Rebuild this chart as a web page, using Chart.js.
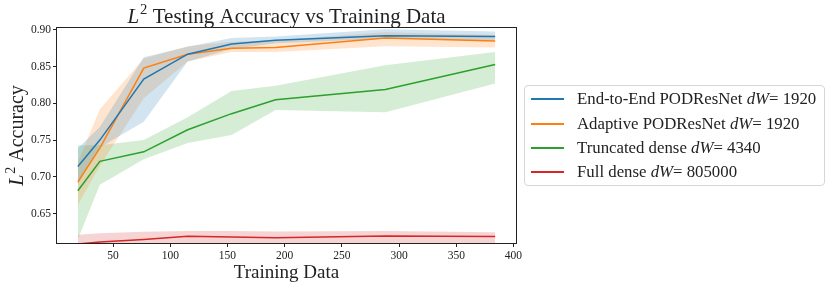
<!DOCTYPE html>
<html>
<head>
<meta charset="utf-8">
<script src="https://cdn.jsdelivr.net/npm/chart.js@4.4.1/dist/chart.umd.min.js"></script>
<style>
  html, body { margin: 0; padding: 0; background: #fff; }
  #wrap { position: relative; width: 831px; height: 288px; }
  #legend {
    position: absolute; left: 524px; top: 85px; width: 301px; height: 101px;
    box-sizing: border-box; border: 1px solid #d6d6d6; border-radius: 4px;
    font-family: 'Liberation Serif', serif; font-size: 16.8px; color: #222;
    padding-top: 1px;
  }
  .row { display: flex; align-items: center; height: 24.4px; white-space: nowrap; }
  .swatch { width: 33px; height: 2px; margin-left: 6px; margin-right: 13px; }
</style>
</head>
<body>
<div id="wrap">
  <canvas id="chart" width="831" height="288"></canvas>
  <div id="legend"></div>
</div>
<script>
const trainingData = [19.2, 38.4, 76.8, 115.2, 153.6, 192, 288, 384];

const endToEndMean  = [0.714, 0.750, 0.833, 0.867, 0.881, 0.886, 0.892, 0.891];
const endToEndUpper = [0.739, 0.768, 0.863, 0.877, 0.889, 0.891, 0.901, 0.898];
const endToEndLower = [0.690, 0.740, 0.775, 0.857, 0.874, 0.882, 0.888, 0.886];

const adaptiveMean  = [0.693, 0.739, 0.848, 0.867, 0.875, 0.876, 0.889, 0.885];
const adaptiveUpper = [0.720, 0.792, 0.861, 0.878, 0.884, 0.886, 0.897, 0.893];
const adaptiveLower = [0.662, 0.715, 0.807, 0.857, 0.870, 0.870, 0.878, 0.876];

const truncatedMean  = [0.681, 0.721, 0.734, 0.764, 0.786, 0.805, 0.819, 0.853];
const truncatedUpper = [0.743, 0.743, 0.750, 0.781, 0.817, 0.824, 0.852, 0.870];
const truncatedLower = [0.615, 0.689, 0.724, 0.746, 0.757, 0.791, 0.788, 0.827];

const fullDenseMean  = [0.6085, 0.611, 0.6145, 0.619, 0.618, 0.617, 0.6195, 0.6185];
const fullDenseUpper = [0.621, 0.623, 0.625, 0.626, 0.626, 0.6255, 0.626, 0.6245];
const fullDenseLower = [0.600, 0.601, 0.603, 0.605, 0.604, 0.603, 0.604, 0.604];

const seriesNames = ['End-to-End PODResNet', 'Adaptive PODResNet', 'Truncated dense', 'Full dense'];
const seriesDW = ['1920', '1920', '4340', '805000'];
const seriesColors = ['#1f77b4', '#ff7f0e', '#2ca02c', '#d62728'];
const bandColors = ['rgba(31,119,180,0.2)', 'rgba(255,127,14,0.2)', 'rgba(44,160,44,0.2)', 'rgba(214,39,40,0.2)'];

const xTicks = [50, 100, 150, 200, 250, 300, 350, 400];
const yTicks = [0.65, 0.70, 0.75, 0.80, 0.85, 0.90];

const series = [
  [endToEndMean, endToEndUpper, endToEndLower],
  [adaptiveMean, adaptiveUpper, adaptiveLower],
  [truncatedMean, truncatedUpper, truncatedLower],
  [fullDenseMean, fullDenseUpper, fullDenseLower]
];

const pts = arr => arr.map((v, i) => ({ x: trainingData[i], y: v }));

const datasets = [];
series.forEach((s, i) => {
  datasets.push({ data: pts(s[2]), borderWidth: 0, pointRadius: 0, fill: false, order: 2 });
  datasets.push({ data: pts(s[1]), borderWidth: 0, pointRadius: 0, fill: '-1', backgroundColor: bandColors[i], order: 2 });
  datasets.push({ label: seriesNames[i], data: pts(s[0]), borderColor: seriesColors[i], borderWidth: 1.5, pointRadius: 0, fill: false, order: 1 });
});

const serif = "'Liberation Serif', serif";

function drawL2Label(ctx, rest, size) {
  // italic L, superscript 2, then regular text, centred on (0,0) baseline
  const supSize = size * 0.7;
  ctx.font = `italic ${size}px ${serif}`;
  const wL = ctx.measureText('L').width;
  ctx.font = `${supSize}px ${serif}`;
  const w2 = ctx.measureText('2').width;
  ctx.font = `${size}px ${serif}`;
  const wRest = ctx.measureText(' ' + rest).width;
  let x = -(wL + w2 + 1 + wRest) / 2;
  ctx.textBaseline = 'alphabetic';
  ctx.textAlign = 'left';
  ctx.font = `italic ${size}px ${serif}`;
  ctx.fillText('L', x, 0);
  x += wL + 1;
  ctx.font = `${supSize}px ${serif}`;
  ctx.fillText('2', x, -size * 0.42);
  x += w2;
  ctx.font = `${size}px ${serif}`;
  ctx.fillText(' ' + rest, x, 0);
}

const frameAndTitles = {
  id: 'frameAndTitles',
  afterDraw(chart) {
    const { ctx, chartArea: a } = chart;
    ctx.save();
    ctx.strokeStyle = '#222';
    ctx.lineWidth = 1;
    ctx.strokeRect(Math.round(a.left) - 0.5, Math.round(a.top) - 0.5, Math.round(a.right - a.left) + 1, Math.round(a.bottom - a.top) + 1);
    ctx.fillStyle = '#222';
    const cx = (a.left + a.right) / 2;

    ctx.save();
    ctx.translate(cx, 22.5);
    drawL2Label(ctx, 'Testing Accuracy vs Training Data', 21);
    ctx.restore();

    ctx.save();
    ctx.translate(23, (a.top + a.bottom) / 2);
    ctx.rotate(-Math.PI / 2);
    drawL2Label(ctx, 'Accuracy', 20);
    ctx.restore();

    ctx.font = `19px ${serif}`;
    ctx.textAlign = 'center';
    ctx.textBaseline = 'alphabetic';
    ctx.fillText('Training Data', cx, 277.5);
    ctx.restore();
  }
};

new Chart(document.getElementById('chart'), {
  type: 'line',
  data: { datasets },
  options: {
    responsive: false,
    animation: false,
    layout: { padding: { left: 0, right: 315, top: 28, bottom: 0 } },
    plugins: { legend: { display: false }, tooltip: { enabled: false } },
    scales: {
      x: {
        type: 'linear',
        min: 0.96,
        max: 402.2,
        afterFit(scale) { scale.height = 45; },
        afterBuildTicks(scale) { scale.ticks = xTicks.map(v => ({ value: v })); },
        border: { display: false },
        grid: { drawOnChartArea: false, drawTicks: true, tickLength: 4, color: '#222' },
        ticks: { padding: 2, color: '#222', font: { family: serif, size: 11.5 }, maxRotation: 0, callback: v => String(v) }
      },
      y: {
        type: 'linear',
        min: 0.6098,
        max: 0.9027,
        afterFit(scale) { scale.width = 57; },
        afterBuildTicks(scale) { scale.ticks = yTicks.map(v => ({ value: v })); },
        border: { display: false },
        grid: { drawOnChartArea: false, drawTicks: true, tickLength: 4, color: '#222' },
        ticks: { padding: 2, color: '#222', font: { family: serif, size: 11.5 }, callback: v => v.toFixed(2) }
      }
    }
  },
  plugins: [frameAndTitles]
});

const legend = document.getElementById('legend');
seriesNames.forEach((name, i) => {
  const row = document.createElement('div');
  row.className = 'row';
  const sw = document.createElement('span');
  sw.className = 'swatch';
  sw.style.background = seriesColors[i];
  const txt = document.createElement('span');
  txt.innerHTML = `${name} <i>dW</i>= ${seriesDW[i]}`;
  row.appendChild(sw);
  row.appendChild(txt);
  legend.appendChild(row);
});
</script>
</body>
</html>
